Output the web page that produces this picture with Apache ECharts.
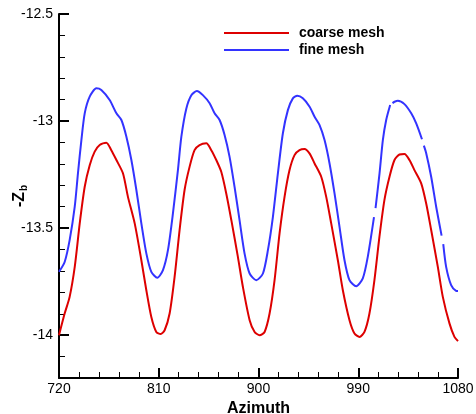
<!DOCTYPE html>
<html>
<head>
<meta charset="utf-8">
<style>
  html, body { margin: 0; padding: 0; background: #ffffff; }
  #chart { width: 476px; height: 414px; }
</style>
<script src="https://cdn.jsdelivr.net/npm/echarts@6/dist/echarts.min.js"></script>
</head>
<body>
<div id="chart"></div>
<script>
// Azimuth axis ticks (deg) and -Z_b axis ticks
const azimuthTicks = [720, 810, 900, 990, 1080];
const zTicks = [-14, -13.5, -13, -12.5];
const zRange = [-14.2, -12.5];

const seriesNames = ['coarse mesh', 'fine mesh'];

// [azimuth, -Z_b] samples, coarse mesh
const coarseMesh = [
  [720, -14.000], [725.1, -13.899], [729.6, -13.821], [734.2, -13.681], [738.7, -13.478],
  [743.2, -13.307], [747.7, -13.206], [752.2, -13.143], [756.7, -13.112], [762.7, -13.101],
  [767.2, -13.136], [771.8, -13.182], [777.7, -13.244], [782.2, -13.354], [788.3, -13.478],
  [794.3, -13.650], [798.8, -13.790], [803.3, -13.915], [807.8, -13.985], [811.7, -13.995],
  [815.3, -13.977], [819.8, -13.899], [824.3, -13.728], [828.8, -13.509], [833.3, -13.322],
  [837.8, -13.214], [842.3, -13.136], [846.8, -13.112], [852.9, -13.104], [857.4, -13.136],
  [861.9, -13.182], [866.4, -13.237], [870.9, -13.338], [875.5, -13.463], [881.4, -13.634],
  [885.9, -13.774], [892.0, -13.930], [896.5, -13.985], [901.0, -14.000], [905.5, -13.985],
  [910.0, -13.899], [914.5, -13.743], [919.0, -13.525], [923.5, -13.354], [928.0, -13.229],
  [932.5, -13.159], [937.0, -13.136], [941.5, -13.131], [946.0, -13.151], [950.6, -13.198],
  [956.6, -13.260], [961.1, -13.354], [965.6, -13.478], [971.6, -13.650], [976.1, -13.790],
  [982.1, -13.930], [986.6, -13.992], [991.1, -14.008], [995.6, -13.985], [1000.1, -13.899],
  [1004.6, -13.743], [1009.1, -13.541], [1013.6, -13.369], [1018.2, -13.260], [1022.7, -13.182],
  [1027.2, -13.156], [1031.7, -13.154], [1036.2, -13.182], [1040.7, -13.229], [1046.8, -13.291],
  [1051.3, -13.385], [1055.8, -13.509], [1061.8, -13.681], [1066.3, -13.821], [1072.3, -13.945],
  [1076.8, -14.008], [1080, -14.028]
];

// [azimuth, -Z_b] samples, fine mesh (null = missing sample)
const fineMesh = [
  [720, -13.704], [725.1, -13.658], [729.6, -13.556], [734.2, -13.400], [737.1, -13.244],
  [740.2, -13.089], [743.2, -12.964], [747.7, -12.886], [753.7, -12.847], [758.2, -12.855],
  [765.7, -12.902], [771.8, -12.964], [776.3, -12.995], [780.8, -13.073], [785.3, -13.182],
  [789.8, -13.322], [794.3, -13.478], [798.8, -13.618], [803.3, -13.704], [808.7, -13.732],
  [813.8, -13.696], [818.3, -13.603], [822.8, -13.431], [827.3, -13.229], [830.4, -13.073],
  [834.9, -12.941], [839.4, -12.879], [844.4, -12.860], [849.8, -12.879], [855.9, -12.917],
  [860.4, -12.964], [864.9, -12.995], [869.4, -13.065], [873.9, -13.167], [878.4, -13.307],
  [882.9, -13.463], [887.4, -13.618], [892.0, -13.712], [898.0, -13.743], [904.0, -13.712],
  [908.5, -13.603], [913.0, -13.447], [917.5, -13.244], [922.0, -13.057], [926.5, -12.949],
  [931.0, -12.894], [935.0, -12.882], [940.0, -12.894], [946.1, -12.933], [950.6, -12.980],
  [955.1, -13.019], [959.6, -13.089], [964.1, -13.198], [968.6, -13.338], [973.1, -13.494],
  [977.6, -13.650], [982.1, -13.743], [988.2, -13.771], [994.1, -13.735], [998.6, -13.634],
  [1004.2, -13.449], [1004.9, null], [1005.6, -13.407], [1009.2, -13.244], [1012.2, -13.089],
  [1015.2, -12.995], [1018.8, -12.925], [1019.8, null], [1020.9, -12.916], [1022.7, -12.910],
  [1025.7, -12.905], [1031.7, -12.921], [1037.8, -12.964], [1042.3, -13.011], [1047.5, -13.085],
  [1048.3, null], [1049.2, -13.115], [1051.3, -13.150], [1055.8, -13.260], [1060.3, -13.400],
  [1065.2, -13.535], [1066.0, null], [1066.7, -13.575], [1069.3, -13.681], [1073.8, -13.766],
  [1078.3, -13.793], [1080, -13.794]
];

const FONT = '"Liberation Sans", Arial, Helvetica, sans-serif';
const toSeriesData = pts => pts.map(p => [p[0], p[1] === null ? '-' : p[1]]);

const chart = echarts.init(document.getElementById('chart'), null, { renderer: 'canvas' });

chart.setOption({
  animation: false,
  backgroundColor: '#ffffff',
  textStyle: { fontFamily: FONT },
  grid: { left: 59, right: 18, top: 14, bottom: 36, containLabel: false, outerBoundsMode: 'none' },
  legend: {
    data: seriesNames,
    orient: 'vertical',
    left: 224,
    top: 26,
    padding: 0,
    itemGap: 3,
    itemWidth: 65,
    itemHeight: 2,
    icon: 'rect',
    selectedMode: false,
    textStyle: { fontFamily: FONT, fontSize: 14, fontWeight: 'bold', color: '#000', padding: [0, 0, 0, 5] }
  },
  xAxis: {
    type: 'value',
    min: azimuthTicks[0],
    max: azimuthTicks[azimuthTicks.length - 1],
    interval: 90,
    name: 'Azimuth',
    nameLocation: 'middle',
    nameGap: 15,
    nameTextStyle: { fontFamily: FONT, fontSize: 16, fontWeight: 'bold', color: '#000' },
    axisLine: { show: true, onZero: false, lineStyle: { color: '#000', width: 2 } },
    axisTick: { show: true, inside: true, length: 10, lineStyle: { color: '#000', width: 2 } },
    minorTick: { show: true, splitNumber: 5, length: 6, lineStyle: { color: '#000', width: 1 } },
    axisLabel: {
      fontFamily: FONT, fontSize: 14, color: '#000', margin: 4,
      showMaxLabel: true, showMinLabel: true,
      formatter: v => String(v)
    },
    splitLine: { show: false }
  },
  yAxis: [
    {
      // minor ticks every 0.1
      type: 'value',
      position: 'left',
      min: zRange[0],
      max: zRange[1],
      interval: 0.1,
      axisLine: { show: true, onZero: false, lineStyle: { color: '#000', width: 2 } },
      axisTick: { show: true, inside: true, length: 6, lineStyle: { color: '#000', width: 1 } },
      axisLabel: { show: false },
      splitLine: { show: false }
    },
    {
      // major ticks and labels
      type: 'value',
      position: 'left',
      min: zRange[0],
      max: zRange[1],
      name: '-Z{sub|b}',
      nameLocation: 'middle',
      nameGap: 30,
      nameMoveOverlap: false,
      nameRotate: 90,
      nameTextStyle: {
        fontFamily: FONT, fontSize: 16, fontWeight: 'bold', color: '#000',
        rich: {
          sub: { fontFamily: FONT, fontSize: 10, fontWeight: 'bold', color: '#000', verticalAlign: 'bottom', padding: [8, 0, 0, 1] }
        }
      },
      axisLine: { show: false },
      axisTick: { show: true, inside: true, length: 10, customValues: zTicks, lineStyle: { color: '#000', width: 2 } },
      axisLabel: {
        fontFamily: FONT, fontSize: 14, color: '#000', margin: 6,
        customValues: zTicks,
        formatter: v => String(Math.round(v * 10) / 10)
      },
      splitLine: { show: false }
    }
  ],
  series: [
    {
      name: seriesNames[0],
      type: 'line',
      yAxisIndex: 0,
      data: toSeriesData(coarseMesh),
      showSymbol: false,
      symbol: 'none',
      smooth: 0.25,
      lineStyle: { color: '#dd0000', width: 2 },
      itemStyle: { color: '#dd0000' }
    },
    {
      name: seriesNames[1],
      type: 'line',
      yAxisIndex: 0,
      data: toSeriesData(fineMesh),
      showSymbol: false,
      symbol: 'none',
      smooth: 0.25,
      connectNulls: false,
      lineStyle: { color: '#3333ff', width: 2 },
      itemStyle: { color: '#3333ff' }
    }
  ]
});
</script>
</body>
</html>
